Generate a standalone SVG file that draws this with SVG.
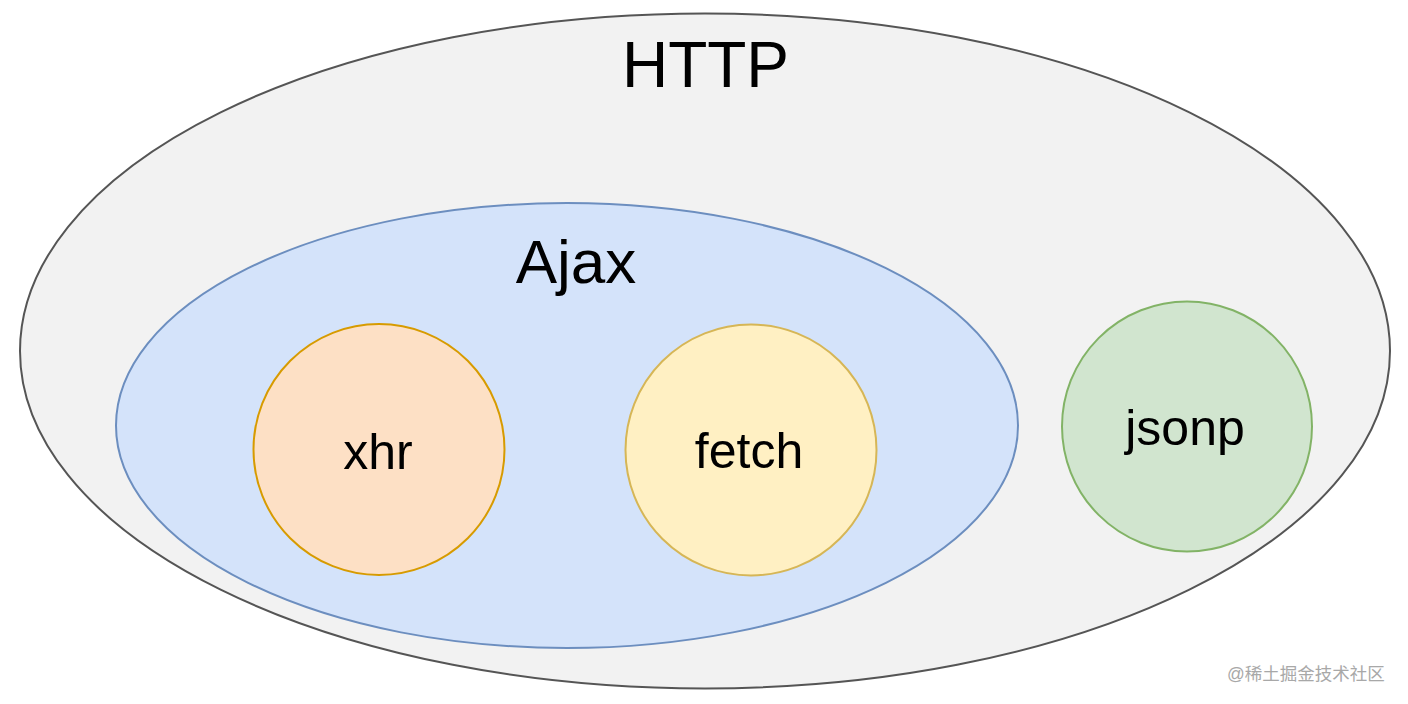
<svg xmlns="http://www.w3.org/2000/svg" width="1408" height="704" viewBox="0 0 1408 704">
<style>
.lbl{font-family:"Liberation Sans",Arial,Helvetica,sans-serif;fill:#000;text-anchor:middle}
.wm{font-family:"Liberation Sans","Noto Sans CJK SC",sans-serif;fill:#a8a8a8;font-size:17.5px}
</style>
<rect x="0" y="0" width="1408" height="704" fill="#ffffff"/>
<g id="http">
<ellipse cx="705" cy="351" rx="685" ry="337.5" fill="#f2f2f2" stroke="#555555" stroke-width="2"/>
<text class="lbl" x="705.5" y="86.5" font-size="64">HTTP</text>
</g>
<g id="ajax">
<ellipse cx="567" cy="425.5" rx="451" ry="222.5" fill="#d4e3fa" stroke="#6c8ebf" stroke-width="2"/>
<text class="lbl" x="576" y="283" font-size="62">Ajax</text>
</g>
<g id="xhr">
<circle cx="379" cy="449.5" r="125.5" fill="#fde0c5" stroke="#d79b00" stroke-width="2"/>
<text class="lbl" x="378" y="468.5" font-size="50">xhr</text>
</g>
<g id="fetch">
<circle cx="751" cy="450" r="125.5" fill="#fff0c3" stroke="#d6b656" stroke-width="2"/>
<text class="lbl" x="749" y="468" font-size="50">fetch</text>
</g>
<g id="jsonp">
<circle cx="1187" cy="426.5" r="125" fill="#d1e5cf" stroke="#82b366" stroke-width="2"/>
<text class="lbl" x="1185" y="445" font-size="50">jsonp</text>
</g>
<g id="connectors"></g>
<text class="wm" x="1227" y="680">@稀土掘金技术社区</text>
</svg>
